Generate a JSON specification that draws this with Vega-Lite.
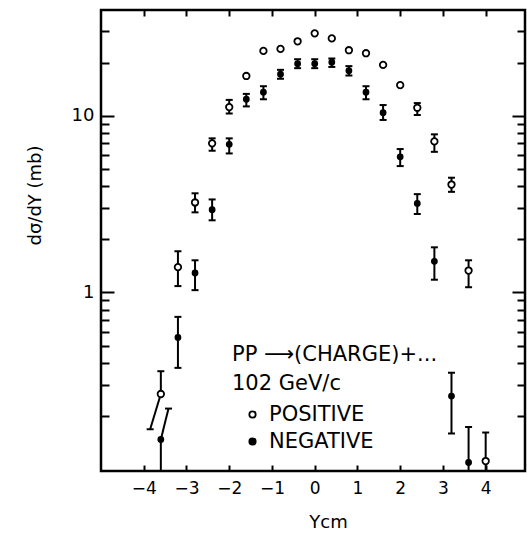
{
  "$schema": "https://vega.github.io/schema/vega-lite/v6.json",
  "width": 424,
  "height": 461,
  "autosize": {"type": "none"},
  "padding": {"left": 101, "top": 10, "right": 2, "bottom": 66},
  "config": {
    "view": {"stroke": "black", "strokeWidth": 2.5},
    "font": "DejaVu Sans",
    "axis": {"grid": false, "domain": false, "labelColor": "black", "titleColor": "black", "titleFontWeight": "normal", "tickColor": "black", "tickWidth": 2}
  },
  "datasets": {
    "pts": [
      {"x": -3.6, "v": 0.266, "lo": 0.266, "hi": 0.358, "charge": "POSITIVE"},
      {"x": -3.2, "v": 1.39, "lo": 1.086, "hi": 1.71, "charge": "POSITIVE"},
      {"x": -2.8, "v": 3.23, "lo": 2.84, "hi": 3.64, "charge": "POSITIVE"},
      {"x": -2.4, "v": 6.98, "lo": 6.34, "hi": 7.45, "charge": "POSITIVE"},
      {"x": -2.0, "v": 11.2, "lo": 10.3, "hi": 12.3, "charge": "POSITIVE"},
      {"x": -1.6, "v": 16.8, "lo": null, "hi": null, "charge": "POSITIVE"},
      {"x": -1.2, "v": 23.3, "lo": null, "hi": null, "charge": "POSITIVE"},
      {"x": -0.8, "v": 23.9, "lo": null, "hi": null, "charge": "POSITIVE"},
      {"x": -0.4, "v": 26.4, "lo": null, "hi": null, "charge": "POSITIVE"},
      {"x": 0.0, "v": 29.3, "lo": null, "hi": null, "charge": "POSITIVE"},
      {"x": 0.4, "v": 27.4, "lo": null, "hi": null, "charge": "POSITIVE"},
      {"x": 0.8, "v": 23.5, "lo": null, "hi": null, "charge": "POSITIVE"},
      {"x": 1.2, "v": 22.6, "lo": null, "hi": null, "charge": "POSITIVE"},
      {"x": 1.6, "v": 19.4, "lo": null, "hi": null, "charge": "POSITIVE"},
      {"x": 2.0, "v": 14.9, "lo": null, "hi": null, "charge": "POSITIVE"},
      {"x": 2.4, "v": 11.1, "lo": 10.1, "hi": 11.8, "charge": "POSITIVE"},
      {"x": 2.8, "v": 7.16, "lo": 6.25, "hi": 7.85, "charge": "POSITIVE"},
      {"x": 3.2, "v": 4.08, "lo": 3.71, "hi": 4.46, "charge": "POSITIVE"},
      {"x": 3.6, "v": 1.33, "lo": 1.07, "hi": 1.52, "charge": "POSITIVE"},
      {"x": 4.0, "v": 0.111, "lo": 0.0975, "hi": 0.161, "charge": "POSITIVE"},
      {"x": -3.6, "v": 0.147, "lo": 0.0975, "hi": 0.147, "charge": "NEGATIVE"},
      {"x": -3.2, "v": 0.556, "lo": 0.374, "hi": 0.727, "charge": "NEGATIVE"},
      {"x": -2.8, "v": 1.29, "lo": 1.03, "hi": 1.52, "charge": "NEGATIVE"},
      {"x": -2.4, "v": 2.94, "lo": 2.56, "hi": 3.36, "charge": "NEGATIVE"},
      {"x": -2.0, "v": 6.89, "lo": 6.12, "hi": 7.45, "charge": "NEGATIVE"},
      {"x": -1.6, "v": 12.4, "lo": 11.3, "hi": 13.3, "charge": "NEGATIVE"},
      {"x": -1.2, "v": 13.6, "lo": 12.4, "hi": 14.7, "charge": "NEGATIVE"},
      {"x": -0.8, "v": 17.2, "lo": 16.2, "hi": 18.2, "charge": "NEGATIVE"},
      {"x": -0.4, "v": 19.7, "lo": 18.6, "hi": 20.9, "charge": "NEGATIVE"},
      {"x": 0.0, "v": 19.7, "lo": 18.6, "hi": 20.9, "charge": "NEGATIVE"},
      {"x": 0.4, "v": 20.1, "lo": 18.9, "hi": 21.1, "charge": "NEGATIVE"},
      {"x": 0.8, "v": 18.0, "lo": 16.9, "hi": 19.1, "charge": "NEGATIVE"},
      {"x": 1.2, "v": 13.6, "lo": 12.4, "hi": 14.7, "charge": "NEGATIVE"},
      {"x": 1.6, "v": 10.4, "lo": 9.47, "hi": 11.5, "charge": "NEGATIVE"},
      {"x": 2.0, "v": 5.86, "lo": 5.19, "hi": 6.48, "charge": "NEGATIVE"},
      {"x": 2.4, "v": 3.19, "lo": 2.78, "hi": 3.6, "charge": "NEGATIVE"},
      {"x": 2.8, "v": 1.5, "lo": 1.18, "hi": 1.8, "charge": "NEGATIVE"},
      {"x": 3.2, "v": 0.259, "lo": 0.159, "hi": 0.351, "charge": "NEGATIVE"},
      {"x": 3.6, "v": 0.109, "lo": 0.0975, "hi": 0.173, "charge": "NEGATIVE"}
    ],
    "slant": [
      {"x": -3.6, "v": 0.266, "x2": -3.85, "v2": 0.168, "charge": "POSITIVE"},
      {"x": -3.6, "v": 0.147, "x2": -3.42, "v2": 0.22, "charge": "NEGATIVE"}
    ]
  },
  "layer": [
    {
      "data": {"name": "pts"},
      "transform": [{"filter": "isValid(datum.lo)"}],
      "mark": {"type": "rule", "color": "black", "strokeWidth": 2},
      "encoding": {
        "x": {"field": "x", "type": "quantitative",
          "scale": {"domain": [-5, 4.92], "nice": false, "zero": false},
          "axis": {"orient": "bottom", "values": [-4, -3, -2, -1, 0, 1, 2, 3, 4], "ticks": false, "labelPadding": 9, "labelFontSize": 17,
            "title": "Ycm", "titleFontSize": 18, "titleX": 227, "titleY": 51, "titleBaseline": "middle", "titleAlign": "center"}},
        "y": {"field": "lo", "type": "quantitative",
          "scale": {"type": "log", "domain": [0.0975, 39.7], "nice": false},
          "axis": {"orient": "left", "values": [1, 10], "ticks": false, "labelPadding": 7, "labelFontSize": 18,
            "title": "dσ/dY (mb)", "titleFontSize": 18, "titleX": -66, "titleY": 185, "titleAngle": 270, "titleAlign": "center", "titleBaseline": "middle"}},
        "y2": {"field": "hi"}
      }
    },
    {
      "data": {"name": "pts"},
      "transform": [{"filter": "isValid(datum.lo) && datum.lo < datum.v && datum.lo > 0.098"}],
      "mark": {"type": "tick", "orient": "horizontal", "size": 7, "thickness": 2, "color": "black", "opacity": 1},
      "encoding": {
        "x": {"field": "x", "type": "quantitative",
          "axis": {"orient": "bottom", "values": [-4, -3, -2, -1, 0, 1, 2, 3, 4], "ticks": true, "tickSize": -6, "labels": false, "title": null}},
        "y": {"field": "lo", "type": "quantitative",
          "axis": {"orient": "left", "values": [0.2, 0.3, 0.4, 0.5, 0.6, 0.7, 0.8, 0.9, 2, 3, 4, 5, 6, 7, 8, 9, 20, 30], "ticks": true, "tickSize": -8, "labels": false, "title": null}}
      }
    },
    {
      "data": {"name": "pts"},
      "transform": [{"filter": "isValid(datum.hi) && datum.hi > datum.v"}],
      "mark": {"type": "tick", "orient": "horizontal", "size": 7, "thickness": 2, "color": "black", "opacity": 1},
      "encoding": {
        "x": {"field": "x", "type": "quantitative",
          "axis": {"orient": "top", "values": [-4, -3, -2, -1, 0, 1, 2, 3, 4], "ticks": true, "tickSize": -6, "labels": false, "title": null}},
        "y": {"field": "hi", "type": "quantitative",
          "axis": {"orient": "left", "values": [1, 10], "ticks": true, "tickSize": -13, "labels": false, "title": null}}
      }
    },
    {
      "data": {"name": "slant"},
      "mark": {"type": "rule", "color": "black", "strokeWidth": 2},
      "encoding": {
        "x": {"field": "x", "type": "quantitative", "axis": null},
        "x2": {"field": "x2"},
        "y": {"field": "v", "type": "quantitative",
          "axis": {"orient": "right", "values": [1, 10], "ticks": true, "tickSize": -13, "labels": false, "title": null}},
        "y2": {"field": "v2"}
      }
    },
    {
      "data": {"name": "slant"},
      "mark": {"type": "tick", "orient": "horizontal", "size": 7, "thickness": 2, "color": "black", "opacity": 1},
      "encoding": {
        "x": {"field": "x2", "type": "quantitative", "axis": null},
        "y": {"field": "v2", "type": "quantitative",
          "axis": {"orient": "right", "values": [0.2, 0.3, 0.4, 0.5, 0.6, 0.7, 0.8, 0.9, 2, 3, 4, 5, 6, 7, 8, 9, 20, 30], "ticks": true, "tickSize": -8, "labels": false, "title": null}}
      }
    },
    {
      "data": {"name": "pts"},
      "transform": [{"filter": "datum.charge == 'POSITIVE'"}],
      "mark": {"type": "point", "shape": "circle", "filled": true, "stroke": "black", "strokeWidth": 1.8, "opacity": 1, "size": 42},
      "encoding": {
        "x": {"field": "x", "type": "quantitative", "axis": null},
        "y": {"field": "v", "type": "quantitative", "axis": null},
        "fill": {"field": "charge", "type": "nominal",
          "scale": {"domain": ["POSITIVE", "NEGATIVE"], "range": ["white", "black"]},
          "legend": {"orient": "none", "legendX": 131, "legendY": 334, "padding": 0,
            "title": ["PP ⟶(CHARGE)+...", "\u00a0\u00a0\u00a0\u00a0\u00a0\u00a0102 GeV/c"], "titleFontSize": 21, "titleFontWeight": "normal", "titleLineHeight": 29, "titleLimit": 400,
            "titleAlign": "left", "titleAnchor": "start", "titlePadding": 10, "titleColor": "black",
            "labelFontSize": 21, "labelColor": "black", "labelOffset": 6, "rowPadding": 5,
            "symbolSize": 40, "symbolStrokeColor": "black", "symbolStrokeWidth": 1.8, "symbolOffset": 10, "symbolType": "circle"}}
      }
    },
    {
      "data": {"name": "pts"},
      "transform": [{"filter": "datum.charge == 'NEGATIVE'"}],
      "mark": {"type": "point", "shape": "circle", "filled": true, "stroke": "black", "strokeWidth": 1.5, "opacity": 1, "size": 28},
      "encoding": {
        "x": {"field": "x", "type": "quantitative", "axis": null},
        "y": {"field": "v", "type": "quantitative", "axis": null},
        "fill": {"field": "charge", "type": "nominal"}
      }
    }
  ],
  "resolve": {"axis": {"x": "independent", "y": "independent"}}
}
